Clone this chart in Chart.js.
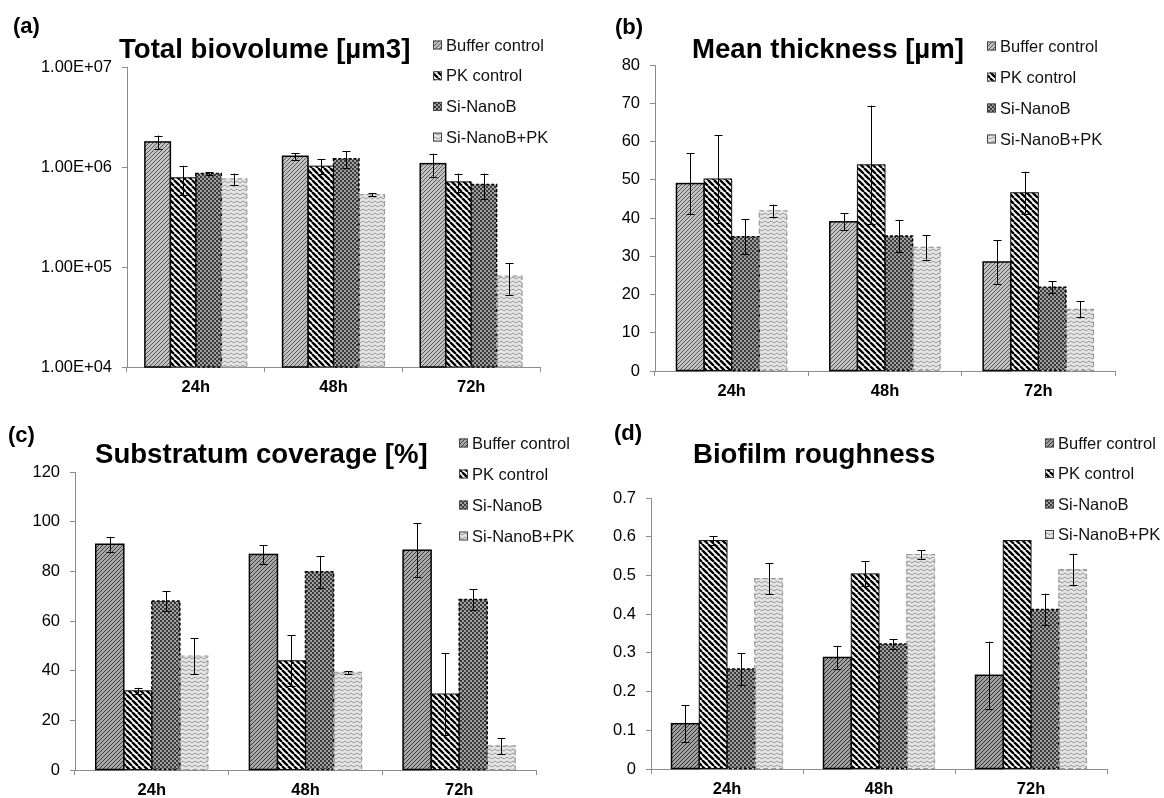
<!DOCTYPE html>
<html>
<head>
<meta charset="utf-8">
<script src="https://cdn.jsdelivr.net/npm/chart.js@4.4.1/dist/chart.umd.min.js"></script>
<style>
body { margin: 0; background: #fff; }
#wrap { position: relative; width: 1164px; height: 798px; }
canvas { position: absolute; }
</style>
</head>
<body>
<div id="wrap">
    <canvas id="chartA" width="582" height="400" style="left:0;top:0"></canvas>
    <canvas id="chartB" width="582" height="400" style="left:582px;top:0"></canvas>
    <canvas id="chartC" width="582" height="398" style="left:0;top:400px"></canvas>
    <canvas id="chartD" width="582" height="398" style="left:582px;top:400px"></canvas>
</div>
<script>
const timepoints = ["24h", "48h", "72h"];
const seriesNames = ["Buffer control", "PK control", "Si-NanoB", "Si-NanoB+PK"];

// (a) total biovolume
const biovolumeBuffer = [1.78e6, 1.28e6, 1.08e6];
const biovolumePK = [7.8e5, 1.02e6, 7.1e5];
const biovolumeSiNanoB = [8.6e5, 1.21e6, 6.7e5];
const biovolumeSiNanoBPK = [7.6e5, 5.3e5, 8.1e4];
const biovolumeErrBuffer = [2.8e5, 1.0e5, 2.8e5];
const biovolumeErrPK = [2.5e5, 1.7e5, 1.5e5];
const biovolumeErrSiNanoB = [3e4, 2.3e5, 1.9e5];
const biovolumeErrSiNanoBPK = [1.0e5, 2e4, 2.8e4];
const biovolumeTicks = [1e4, 1e5, 1e6, 1e7];

// (b) mean thickness
const thicknessBuffer = [49.0, 39.0, 28.5];
const thicknessPK = [50.2, 53.9, 46.6];
const thicknessSiNanoB = [35.1, 35.3, 21.9];
const thicknessSiNanoBPK = [41.9, 32.3, 16.1];
const thicknessErrBuffer = [8.0, 2.2, 5.7];
const thicknessErrPK = [11.5, 15.5, 5.5];
const thicknessErrSiNanoB = [4.6, 4.2, 1.6];
const thicknessErrSiNanoBPK = [1.6, 3.2, 2.1];

// (c) substratum coverage
const coverageBuffer = [90.9, 86.8, 88.5];
const coveragePK = [31.9, 44.0, 30.6];
const coverageSiNanoB = [68.1, 79.8, 68.7];
const coverageSiNanoBPK = [45.9, 39.3, 9.7];
const coverageErrBuffer = [3.0, 3.8, 10.8];
const coverageErrPK = [1.2, 10.2, 16.4];
const coverageErrSiNanoB = [4.0, 6.4, 4.1];
const coverageErrSiNanoBPK = [7.2, 0.6, 3.2];

// (d) roughness
const roughnessBuffer = [0.117, 0.288, 0.242];
const roughnessPK = [0.590, 0.504, 0.590];
const roughnessSiNanoB = [0.258, 0.323, 0.412];
const roughnessSiNanoBPK = [0.492, 0.554, 0.515];
const roughnessErrBuffer = [0.048, 0.030, 0.087];
const roughnessErrPK = [0.011, 0.032, 0];
const roughnessErrSiNanoB = [0.041, 0.012, 0.041];
const roughnessErrSiNanoBPK = [0.040, 0.011, 0.041];

const FONT = "'Liberation Sans', Arial, sans-serif";
Chart.defaults.font.family = FONT;
Chart.defaults.color = "#000";

function makeTile(w, h, drawFn) {
    const c = document.createElement("canvas");
    c.width = w;
    c.height = h;
    const t = c.getContext("2d");
    drawFn(t, w, h);
    return document.createElement("canvas").getContext("2d").createPattern(c, "repeat");
}

function finePattern(bg, fg) {
    return makeTile(4, 4, (t, w, h) => {
        t.fillStyle = bg;
        t.fillRect(0, 0, w, h);
        t.strokeStyle = fg;
        t.lineWidth = 1;
        t.beginPath();
        for (let k = -1; k <= 1; k++) {
            t.moveTo(k * 4, 4);
            t.lineTo(k * 4 + 4, 0);
        }
        t.stroke();
    });
}

function stripePattern() {
    return makeTile(6, 6, (t, w, h) => {
        t.fillStyle = "#fff";
        t.fillRect(0, 0, w, h);
        t.strokeStyle = "#000";
        t.lineWidth = 2.4;
        t.beginPath();
        for (let k = -1; k <= 1; k++) {
            t.moveTo(k * 6, 0);
            t.lineTo(k * 6 + 6, 6);
        }
        t.stroke();
    });
}

function checkPattern() {
    return makeTile(4, 4, (t) => {
        t.fillStyle = "#a0a0a0";
        t.fillRect(0, 0, 4, 4);
        t.fillStyle = "#3a3a3a";
        t.fillRect(0, 0, 2, 2);
        t.fillRect(2, 2, 2, 2);
    });
}

function wavePattern() {
    return makeTile(6, 4, (t) => {
        t.fillStyle = "#e6e6e6";
        t.fillRect(0, 0, 6, 4);
        t.strokeStyle = "#979797";
        t.lineWidth = 1;
        t.beginPath();
        t.moveTo(0, 3);
        t.lineTo(3, 1);
        t.lineTo(6, 3);
        t.stroke();
    });
}

const outlines = [
    { color: "#000", width: 1.5, dash: [] },
    { color: "#111", width: 1, dash: [] },
    { color: "#000", width: 1.5, dash: [3, 2] },
    { color: "#999", width: 1.2, dash: [5, 3] }
];

const barDecorPlugin = {
    id: "barDecor",
    afterDatasetsDraw(chart) {
        const ctx = chart.ctx;
        const yScale = chart.scales.y;
        ctx.save();
        chart.data.datasets.forEach((ds, i) => {
            const o = outlines[i];
            ctx.strokeStyle = o.color;
            ctx.lineWidth = o.width;
            ctx.setLineDash(o.dash);
            chart.getDatasetMeta(i).data.forEach((bar) => {
                const p = bar.getProps(["x", "y", "base", "width"], true);
                ctx.strokeRect(p.x - p.width / 2, Math.min(p.y, p.base), p.width, Math.abs(p.base - p.y));
            });
        });
        ctx.setLineDash([]);
        ctx.strokeStyle = "#000";
        ctx.lineWidth = 1;
        chart.data.datasets.forEach((ds, i) => {
            chart.getDatasetMeta(i).data.forEach((bar, j) => {
                const err = ds.errors[j];
                if (!err) return;
                const v = ds.data[j];
                const x = Math.round(bar.x) + 0.5;
                const yTop = yScale.getPixelForValue(v + err);
                const yBot = yScale.getPixelForValue(v - err);
                ctx.beginPath();
                ctx.moveTo(x, yTop);
                ctx.lineTo(x, yBot);
                ctx.moveTo(x - 4, Math.round(yTop) + 0.5);
                ctx.lineTo(x + 4, Math.round(yTop) + 0.5);
                ctx.moveTo(x - 4, Math.round(yBot) + 0.5);
                ctx.lineTo(x + 4, Math.round(yBot) + 0.5);
                ctx.stroke();
            });
        });
        ctx.restore();
    }
};

const panelTextPlugin = {
    id: "panelText",
    afterDraw(chart, args, opts) {
        const ctx = chart.ctx;
        ctx.save();
        ctx.fillStyle = "#000";
        ctx.textBaseline = "alphabetic";
        ctx.textAlign = "left";
        ctx.font = "bold 22px " + FONT;
        ctx.fillText(opts.label, opts.labelX, opts.labelY);
        ctx.font = "bold 27.6px " + FONT;
        ctx.fillText(opts.title, opts.titleX, opts.titleY);

        ctx.font = "16.5px " + FONT;
        ctx.textBaseline = "middle";
        chart.data.datasets.forEach((ds, i) => {
            const cy = opts.legendY + i * opts.legendStep;
            ctx.fillStyle = ds.backgroundColor;
            ctx.fillRect(opts.legendX, cy - 4.5, 9, 9);
            ctx.strokeStyle = "#444";
            ctx.lineWidth = 1;
            ctx.strokeRect(opts.legendX + 0.5, cy - 4, 8, 8);
            ctx.fillStyle = "#111";
            ctx.fillText(ds.label, opts.legendX + 13, cy + 1);
        });
        ctx.restore();
    }
};

function sciLabel(v) {
    const exp = Math.round(Math.log10(v));
    const mant = v / Math.pow(10, exp);
    return mant.toFixed(2) + "E+" + String(exp).padStart(2, "0");
}

function criarPainel(id, cfg) {
    const fills = [finePattern(cfg.bufferBg, cfg.bufferFg), stripePattern(), checkPattern(), wavePattern()];
    const datasets = cfg.values.map((vals, i) => ({
        label: seriesNames[i],
        data: vals,
        errors: cfg.errors[i],
        backgroundColor: fills[i],
        borderWidth: 0,
        barPercentage: 1,
        categoryPercentage: cfg.catPct
    }));

    const yScale = {
        min: cfg.min,
        max: cfg.max,
        afterFit: (s) => { s.width = cfg.yWidth; },
        border: { color: "#8c8c8c", width: 1 },
        grid: { drawOnChartArea: false, color: "#8c8c8c", tickLength: 5 },
        ticks: { font: { size: 16.5 }, padding: 10, color: "#000" }
    };
    if (cfg.log) {
        yScale.type = "logarithmic";
        yScale.afterBuildTicks = (s) => { s.ticks = cfg.tickValues.map(v => ({ value: v, major: true })); };
        yScale.ticks.callback = (v) => sciLabel(v);
    } else {
        yScale.ticks.stepSize = cfg.step;
    }

    return new Chart(document.getElementById(id), {
        type: "bar",
        data: { labels: timepoints, datasets: datasets },
        plugins: [barDecorPlugin, panelTextPlugin],
        options: {
            responsive: false,
            animation: false,
            devicePixelRatio: 1,
            layout: { padding: { left: 0, right: cfg.padRight, top: cfg.padTop, bottom: 0 } },
            scales: {
                x: {
                    afterFit: (s) => { s.height = cfg.xHeight; },
                    border: { color: "#8c8c8c", width: 1 },
                    grid: { drawOnChartArea: false, color: "#8c8c8c", tickLength: 5 },
                    ticks: { font: { size: 16.5, weight: "bold" }, padding: 6, color: "#000" }
                },
                y: yScale
            },
            plugins: {
                legend: { display: false },
                tooltip: { enabled: false },
                panelText: cfg.text
            }
        }
    });
}

criarPainel("chartA", {
    values: [biovolumeBuffer, biovolumePK, biovolumeSiNanoB, biovolumeSiNanoBPK],
    errors: [biovolumeErrBuffer, biovolumeErrPK, biovolumeErrSiNanoB, biovolumeErrSiNanoBPK],
    log: true, min: 1e4, max: 1e7, tickValues: biovolumeTicks,
    yWidth: 127, padRight: 42, padTop: 67, xHeight: 33, catPct: 0.74,
    bufferBg: "#c2c2c2", bufferFg: "#5a5a5a",
    text: { label: "(a)", labelX: 13, labelY: 33, title: "Total biovolume [\u00b5m3]", titleX: 119, titleY: 58,
            legendX: 433, legendY: 45, legendStep: 30.7 }
});

criarPainel("chartB", {
    values: [thicknessBuffer, thicknessPK, thicknessSiNanoB, thicknessSiNanoBPK],
    errors: [thicknessErrBuffer, thicknessErrPK, thicknessErrSiNanoB, thicknessErrSiNanoBPK],
    min: 0, max: 80, step: 10,
    yWidth: 73, padRight: 49, padTop: 65, xHeight: 29, catPct: 0.72,
    bufferBg: "#c2c2c2", bufferFg: "#5a5a5a",
    text: { label: "(b)", labelX: 33, labelY: 34, title: "Mean thickness [\u00b5m]", titleX: 110, titleY: 58,
            legendX: 405, legendY: 46, legendStep: 31 }
});

criarPainel("chartC", {
    values: [coverageBuffer, coveragePK, coverageSiNanoB, coverageSiNanoBPK],
    errors: [coverageErrBuffer, coverageErrPK, coverageErrSiNanoB, coverageErrSiNanoBPK],
    min: 0, max: 120, step: 20,
    yWidth: 75, padRight: 46, padTop: 72, xHeight: 28, catPct: 0.73,
    bufferBg: "#a8a8a8", bufferFg: "#3e3e3e",
    text: { label: "(c)", labelX: 8, labelY: 42, title: "Substratum coverage [%]", titleX: 95, titleY: 63,
            legendX: 459, legendY: 43, legendStep: 31 }
});

criarPainel("chartD", {
    values: [roughnessBuffer, roughnessPK, roughnessSiNanoB, roughnessSiNanoBPK],
    errors: [roughnessErrBuffer, roughnessErrPK, roughnessErrSiNanoB, roughnessErrSiNanoBPK],
    min: 0, max: 0.7, step: 0.1,
    yWidth: 69, padRight: 57, padTop: 98, xHeight: 29, catPct: 0.73,
    bufferBg: "#a0a0a0", bufferFg: "#333333",
    text: { label: "(d)", labelX: 32, labelY: 40, title: "Biofilm roughness", titleX: 111, titleY: 63,
            legendX: 463, legendY: 43, legendStep: 30.5 }
});
</script>
</body>
</html>
